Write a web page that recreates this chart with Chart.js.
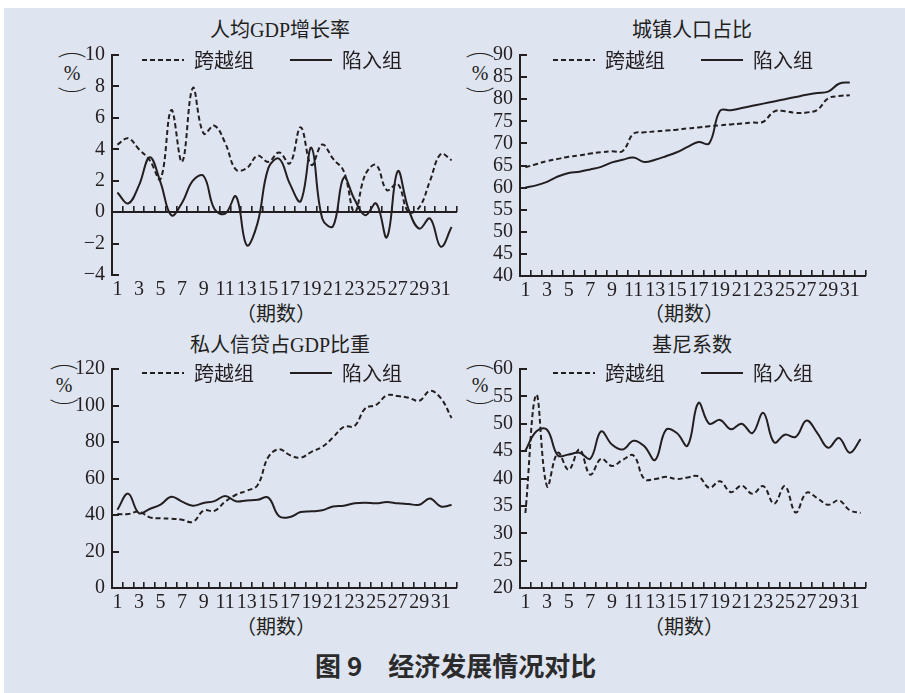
<!DOCTYPE html>
<html lang="zh-CN">
<head>
<meta charset="utf-8">
<title>经济发展情况对比</title>
<script src="https://cdn.jsdelivr.net/npm/chart.js@4.4.1/dist/chart.umd.min.js"></script>
<style>
  html, body { margin: 0; padding: 0; background: #fff; }
  #page { position: relative; width: 905px; height: 693px; overflow: hidden; background: #fff; }
  #sheet { position: absolute; left: 4px; top: 8px; right: 0; bottom: 0; background: #dfe4f1; }
  canvas { position: absolute; left: 0; top: 0; }
  .txt { position: absolute; transform: translate(-50%, -50%); white-space: nowrap; color: #231f20;
         font-family: 'Liberation Serif', 'Noto Sans CJK SC', serif; font-size: 20px; line-height: 1; }
  .cjk { font-family: 'Noto Sans CJK SC', sans-serif; }
  .arc { transform: translate(-50%, -50%) scaleX(1.45); font-weight: 300; }
  #caption { position: absolute; left: 315px; top: 665px; transform: translateY(-50%); white-space: nowrap;
             font-family: 'Noto Sans CJK SC', sans-serif; font-weight: 700; font-size: 26px; line-height: 1; color: #2b2b2b; }
</style>
</head>
<body>
<div id="page">
  <div id="sheet"></div>

  <div class="txt" style="left:280px; top:30px;">人均GDP增长率</div>
  <div class="txt" style="left:692px; top:30px;">城镇人口占比</div>
  <div class="txt" style="left:280px; top:345px;">私人信贷占GDP比重</div>
  <div class="txt" style="left:692px; top:345px;">基尼系数</div>

  <div class="txt cjk arc" style="left:72px; top:48px;">︵</div>
  <div class="txt" style="left:72px; top:73px;">%</div>
  <div class="txt cjk arc" style="left:72px; top:97px;">︶</div>
  <div class="txt cjk arc" style="left:480px; top:48px;">︵</div>
  <div class="txt" style="left:480px; top:73px;">%</div>
  <div class="txt cjk arc" style="left:480px; top:97px;">︶</div>
  <div class="txt cjk arc" style="left:64px; top:360px;">︵</div>
  <div class="txt" style="left:64px; top:385px;">%</div>
  <div class="txt cjk arc" style="left:64px; top:409px;">︶</div>
  <div class="txt cjk arc" style="left:480px; top:360px;">︵</div>
  <div class="txt" style="left:480px; top:385px;">%</div>
  <div class="txt cjk arc" style="left:480px; top:409px;">︶</div>

  <div class="txt cjk" style="left:276px; top:313px;">（期数）</div>
  <div class="txt cjk" style="left:684px; top:313px;">（期数）</div>
  <div class="txt cjk" style="left:276px; top:626px;">（期数）</div>
  <div class="txt cjk" style="left:684px; top:626px;">（期数）</div>

  <div id="caption">图 9　经济发展情况对比</div>

  <canvas id="c1" width="905" height="693"></canvas>
  <canvas id="c2" width="905" height="693"></canvas>
  <canvas id="c3" width="905" height="693"></canvas>
  <canvas id="c4" width="905" height="693"></canvas>
</div>

<script>
// ---- data ----
const periods = ['1','2','3','4','5','6','7','8','9','10','11','12','13','14','15','16',
                 '17','18','19','20','21','22','23','24','25','26','27','28','29','30','31','32'];
const shownPeriods = ['1','3','5','7','9','11','13','15','17','19','21','23','25','27','29','31'];
const seriesNames = ['跨越组', '陷入组'];

// 人均GDP增长率 (%)
const gdpCross = [4.3, 4.7, 4.0, 3.3, 2.1, 6.5, 3.2, 7.9, 5.0, 5.5, 4.4, 2.7, 2.8, 3.6, 3.2, 3.8,
                  3.1, 5.4, 3.0, 4.3, 3.4, 2.6, 0.0, 2.4, 3.0, 1.4, 1.8, 0.0, 0.3, 2.0, 3.7, 3.3];
const gdpTrap  = [1.25, 0.55, 1.7, 3.5, 1.9, -0.2, 0.6, 2.0, 2.3, 0.2, -0.1, 1.0, -2.1, -0.7, 2.8, 3.4,
                  1.8, 0.7, 4.1, -0.4, -0.9, 2.2, 0.8, -0.2, 0.55, -1.6, 2.6, 0.2, -1.05, -0.4, -2.2, -0.95];

// 城镇人口占比 (%)
const urbanCross = [64.6, 65.3, 66.0, 66.5, 67.0, 67.3, 67.7, 68.0, 68.2, 68.3, 72.2, 72.5, 72.7, 72.9, 73.1, 73.4,
                    73.6, 73.9, 74.1, 74.3, 74.5, 74.7, 74.9, 77.2, 77.3, 76.9, 77.0, 77.6, 80.2, 80.7, 80.9];
const urbanTrap  = [60.0, 60.5, 61.3, 62.5, 63.3, 63.6, 64.1, 64.7, 65.7, 66.3, 66.8, 65.8, 66.3, 67.1, 68.0, 69.2,
                    70.3, 70.0, 77.4, 77.5, 78.0, 78.5, 79.0, 79.5, 80.0, 80.5, 81.0, 81.4, 81.7, 83.5, 83.8];

// 私人信贷占GDP比重 (%)
const creditCross = [40.5, 40.5, 41.8, 38.7, 38.2, 38.0, 37.4, 36.2, 42.4, 42.3, 47.3, 51.1, 53.3, 56.3, 71.8, 76.0,
                     72.8, 71.4, 74.6, 77.3, 82.5, 88.3, 88.8, 98.5, 100.3, 105.6, 105.2, 104.3, 102.6, 108.0, 104.0, 93.1];
const creditTrap  = [42.9, 51.7, 41.0, 43.3, 45.7, 50.0, 47.3, 45.1, 46.6, 47.6, 50.4, 47.5, 48.0, 48.3, 49.5, 39.3,
                     38.9, 41.6, 42.0, 42.6, 44.7, 45.1, 46.4, 46.7, 46.4, 47.1, 46.4, 46.0, 45.6, 49.0, 44.7, 45.5];

// 基尼系数 (%)
const giniCross = [33.7, 55.3, 38.6, 44.7, 41.6, 45.3, 40.7, 43.6, 42.3, 43.4, 44.2, 39.9, 39.9, 40.3, 39.9, 40.2,
                   40.4, 38.3, 39.5, 37.5, 38.7, 37.2, 38.6, 35.4, 38.6, 33.8, 37.4, 36.4, 35.2, 36.0, 34.2, 33.7];
const giniTrap  = [45.1, 48.6, 48.9, 44.2, 44.4, 44.7, 43.6, 48.6, 46.2, 45.3, 46.9, 45.9, 43.4, 48.9, 48.3, 46.0,
                   53.8, 50.0, 50.7, 49.0, 50.0, 48.3, 52.0, 46.6, 48.0, 47.6, 50.6, 48.3, 45.6, 47.4, 44.7, 47.2];

// ---- style ----
const INK = '#231f20';
const SERIF = "'Liberation Serif', 'Times New Roman', serif";
const CJK = "'Noto Sans CJK SC', sans-serif";
const Y_AXIS_W = 50, X_AXIS_H = 40;

// axis frame: y axis with inward ticks, x axis at the baseline value with upward ticks at category edges
const axisFrame = {
  id: 'axisFrame',
  beforeDatasetsDraw(chart, args, opts) {
    const { ctx, chartArea: a, scales: { x, y } } = chart;
    ctx.save();
    ctx.strokeStyle = INK;
    ctx.lineCap = 'butt';
    ctx.lineWidth = 2;
    ctx.beginPath();
    ctx.moveTo(a.left, a.top - 1);
    ctx.lineTo(a.left, a.bottom + 1);
    y.ticks.forEach(t => {
      const py = Math.round(y.getPixelForValue(t.value));
      ctx.moveTo(a.left, py);
      ctx.lineTo(a.left + 7, py);
    });
    const by = Math.round(y.getPixelForValue(opts.base));
    ctx.moveTo(a.left, by);
    ctx.lineTo(a.right, by);
    ctx.stroke();

    const step = x.getPixelForValue(1) - x.getPixelForValue(0);
    const first = x.getPixelForValue(0) - step / 2;
    const n = x.getLabels().length;
    ctx.lineWidth = 1.6;
    ctx.beginPath();
    for (let k = 1; k <= n; k++) {
      const px = Math.round(first + k * step) - 0.2;
      ctx.moveTo(px, by);
      ctx.lineTo(px, by - 6);
    }
    ctx.stroke();
    ctx.restore();
  }
};

// lays the legend out as one row and places it at a given spot inside the plot
const legendSpot = {
  id: 'legendSpot',
  beforeLayout(chart) {
    const lg = chart.legend;
    if (lg && !lg._rowForced) {
      lg.isHorizontal = () => true;
      lg._rowForced = true;
    }
  },
  afterLayout(chart, args, opts) {
    const lg = chart.legend;
    if (!lg) return;
    const pad = lg.options.labels.padding;
    const fs = lg.options.labels.font.size;
    lg.left = opts.x - pad;
    lg.right = lg.left + 420;
    lg.width = 420;
    lg.top = opts.y - pad - fs / 2;
    lg.bottom = lg.top + 2 * pad + fs + 10;
    lg.height = lg.bottom - lg.top;
  }
};

function makePanel(id, area, yMin, yMax, yStep, base, cross, trap, legendPos) {
  const pageW = 905, pageH = 693;
  new Chart(document.getElementById(id), {
    type: 'line',
    data: {
      labels: periods,
      datasets: [
        { label: seriesNames[0], data: cross, borderColor: INK, borderWidth: 2, borderDash: [5, 3],
          tension: 0.4, pointRadius: 0, fill: false },
        { label: seriesNames[1], data: trap, borderColor: INK, borderWidth: 2,
          tension: 0.4, pointRadius: 0, fill: false }
      ]
    },
    options: {
      responsive: false,
      animation: false,
      devicePixelRatio: 1,
      events: [],
      layout: {
        padding: { left: area.l - Y_AXIS_W, top: area.t, right: pageW - area.r, bottom: pageH - area.b - X_AXIS_H }
      },
      scales: {
        x: {
          type: 'category',
          offset: true,
          grid: { display: false, drawTicks: false },
          border: { display: false },
          ticks: {
            autoSkip: false, maxRotation: 0, minRotation: 0, padding: 3, color: INK,
            font: { family: SERIF, size: 20 },
            callback(v) { const l = this.getLabelForValue(v); return shownPeriods.includes(l) ? l : ''; }
          },
          afterFit(s) { s.height = X_AXIS_H; }
        },
        y: {
          min: yMin, max: yMax,
          grid: { display: false, drawTicks: false },
          border: { display: false },
          ticks: {
            stepSize: yStep, padding: 7, color: INK, autoSkip: false, maxTicksLimit: 20,
            font: { family: SERIF, size: 20, lineHeight: 1 },
            callback(v) { return String(v).replace('-', '\u2212'); }
          },
          afterFit(s) { s.width = Y_AXIS_W; }
        }
      },
      plugins: {
        title: { display: false },
        tooltip: { enabled: false },
        legend: {
          position: 'chartArea',
          align: 'start',
          labels: {
            usePointStyle: true, pointStyleWidth: 42, padding: 36, color: INK,
            font: { family: CJK, size: 20 },
            generateLabels(chart) {
              return chart.data.datasets.map((ds, i) => ({
                text: ds.label, datasetIndex: i, hidden: !chart.isDatasetVisible(i),
                fillStyle: 'rgba(0,0,0,0)', strokeStyle: ds.borderColor, lineWidth: ds.borderWidth,
                lineDash: ds.borderDash || [], lineCap: 'butt', pointStyle: 'line', fontColor: INK
              }));
            }
          }
        },
        axisFrame: { base },
        legendSpot: legendPos
      }
    },
    plugins: [axisFrame, legendSpot]
  });
}

makePanel('c1', { l: 112, t: 55,  r: 457, b: 275 }, -4, 10, 2, 0,  gdpCross,    gdpTrap,    { x: 142, y: 60 });
makePanel('c2', { l: 520, t: 55,  r: 866, b: 276 }, 40, 90, 5, 40, urbanCross,  urbanTrap,  { x: 553, y: 60 });
makePanel('c3', { l: 112, t: 369, r: 457, b: 588 }, 0, 120, 20, 0, creditCross, creditTrap, { x: 142, y: 373 });
makePanel('c4', { l: 520, t: 369, r: 866, b: 588 }, 20, 60, 5, 20, giniCross,   giniTrap,   { x: 553, y: 373 });
</script>
</body>
</html>
